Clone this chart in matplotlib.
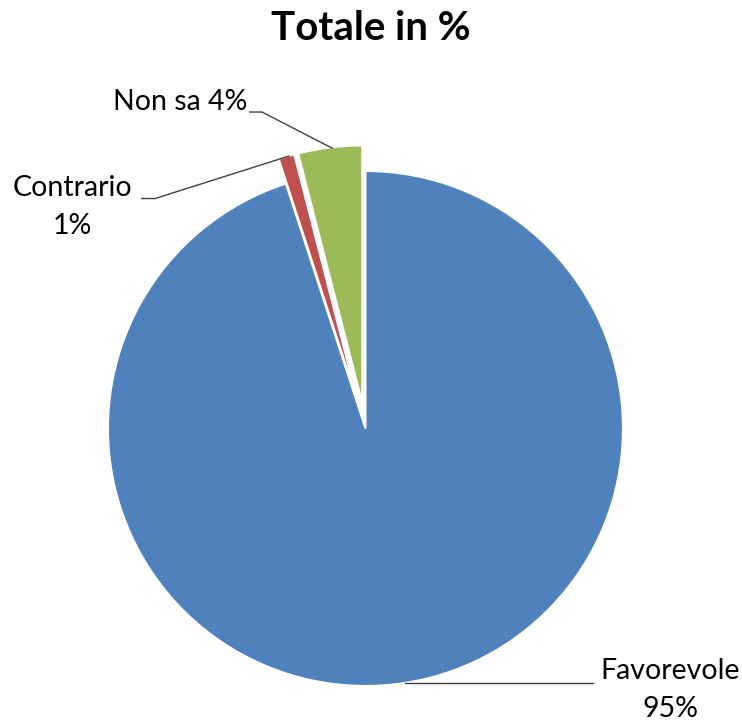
import matplotlib
matplotlib.use("Agg")
import matplotlib.pyplot as plt

# data
labels = ["Favorevole", "Contrario", "Non sa"]
values = [95, 1, 4]
colors = ["#4F81BD", "#C0504D", "#9BBB59"]
explode = [0, 0.1, 0.1]

plt.rcParams['font.family'] = ['Lato', 'DejaVu Sans']

fig = plt.figure(figsize=(7.42, 7.21), dpi=100)
ax = fig.add_axes([0, 0, 1, 1])

wedges, _ = ax.pie(values, colors=colors, explode=explode, startangle=90,
                   counterclock=False, radius=1,
                   wedgeprops=dict(edgecolor="white", linewidth=1.5))

ax.set_xlim(-1.419, 1.462)
ax.set_ylim(-1.136, 1.664)
ax.set_aspect("equal")
ax.axis("off")

# title
fig.text(0.5, 0.961, "Totale in %", ha="center", va="center",
         fontsize=29, fontweight="bold")

lbl_size = 20.5
line_kw = dict(color="#404040", lw=1)

# Non sa
ax.plot([-0.449, -0.402, -0.130], [1.229, 1.229, 1.089], **line_kw)
ax.text(-0.458, 1.268, "Non sa 4%", ha="right", va="center", fontsize=lbl_size)

# Contrario
ax.plot([-0.869, -0.817, -0.297], [0.893, 0.893, 1.058], **line_kw)
ax.text(-1.137, 0.860, "Contrario\n1%", ha="center", va="center",
        fontsize=lbl_size, linespacing=1.55)

# Favorevole
ax.plot([0.155, 0.882], [-0.987, -0.987], **line_kw)
ax.text(1.183, -1.016, "Favorevole\n95%", ha="center", va="center",
        fontsize=lbl_size, linespacing=1.55)

fig.savefig("out.png", dpi=100)
